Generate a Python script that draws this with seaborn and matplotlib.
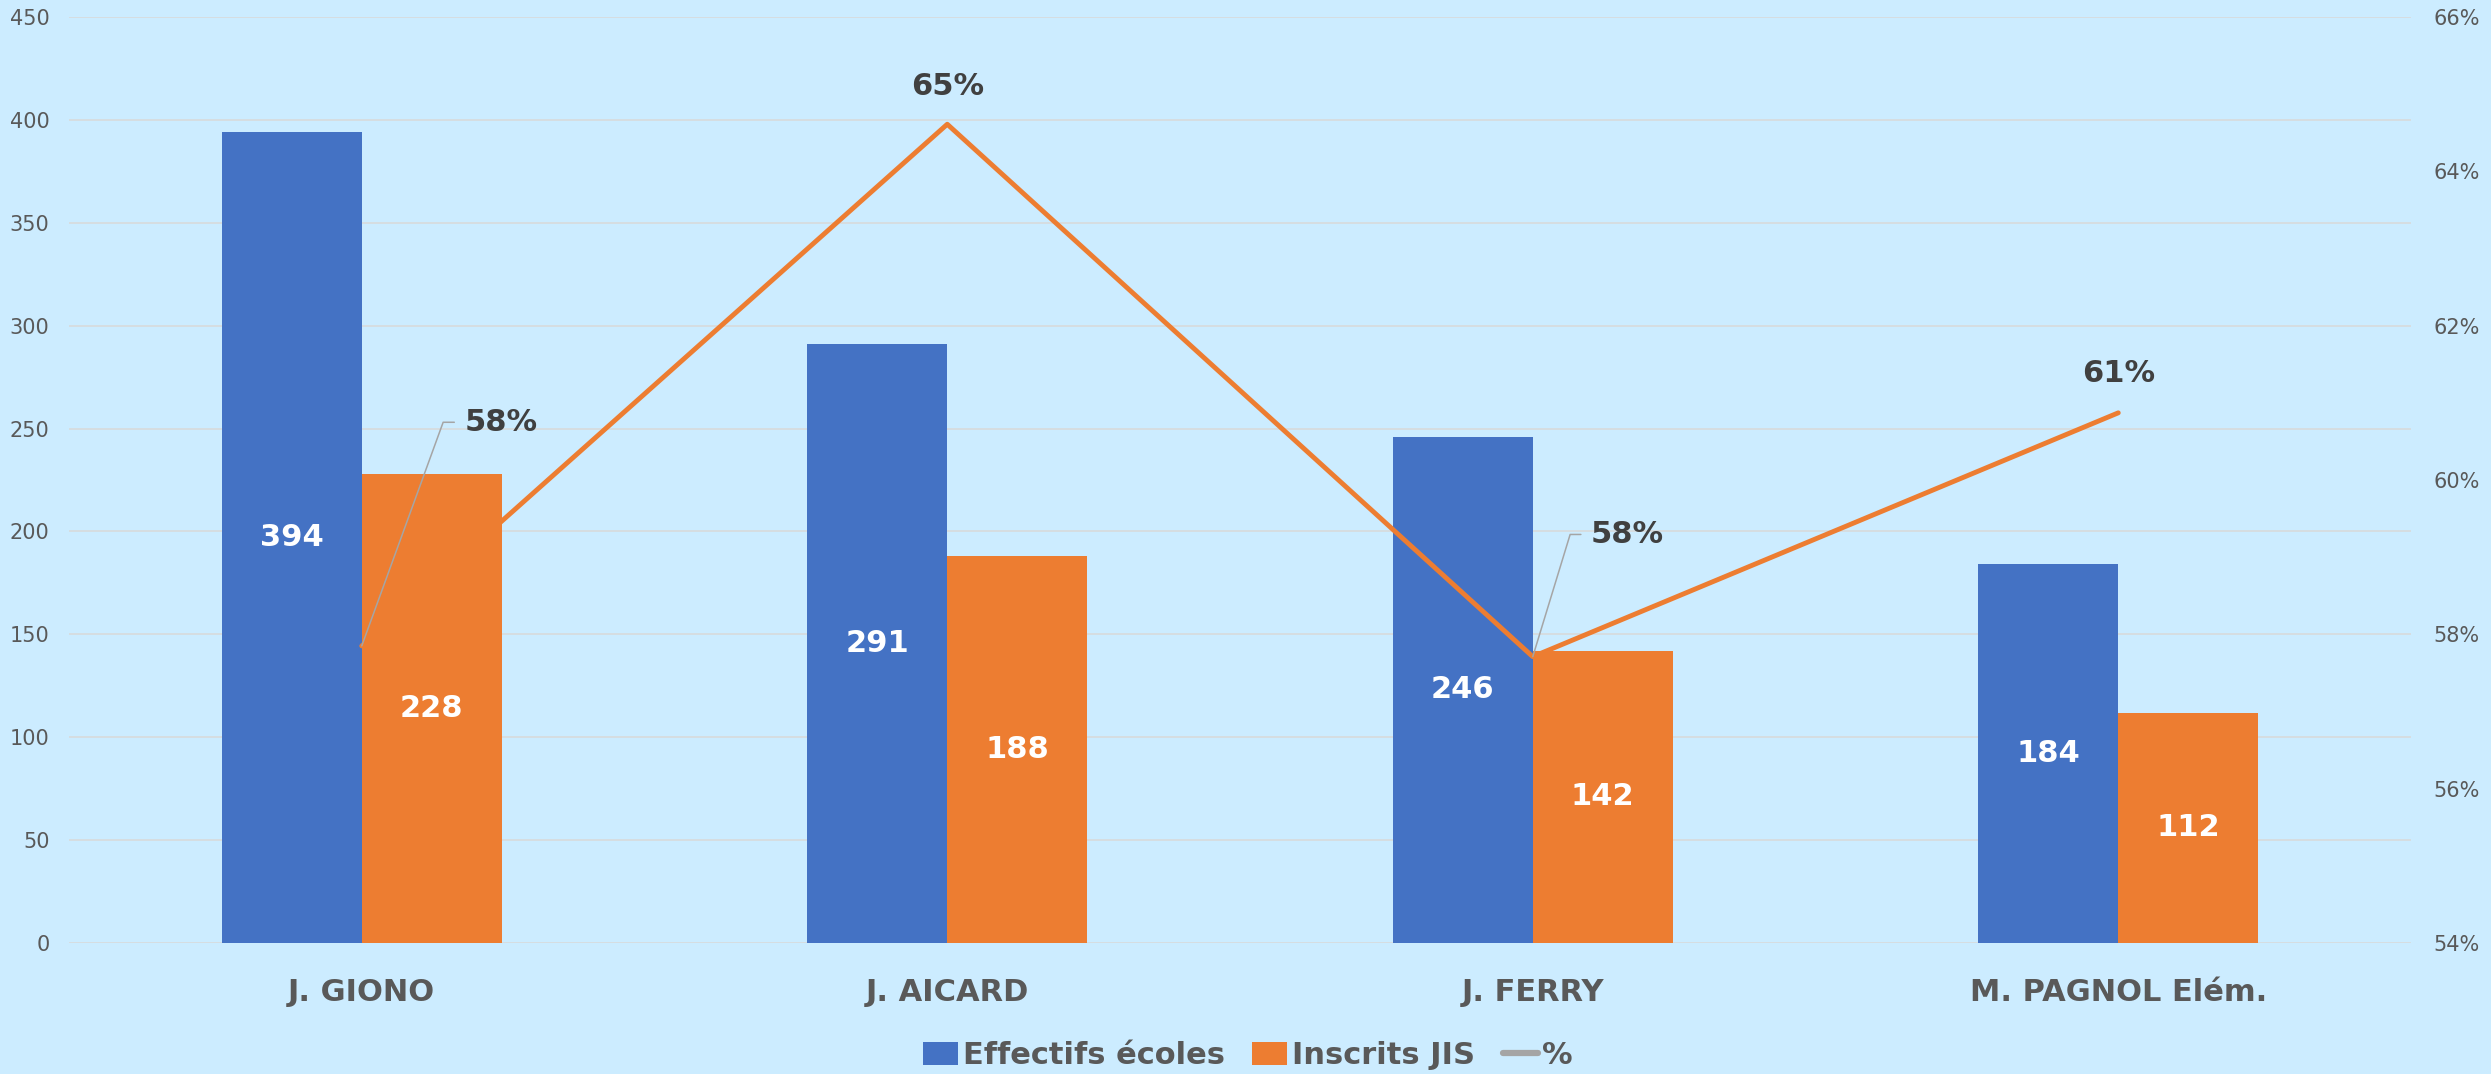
import numpy as np
import matplotlib
matplotlib.use('Agg')
import matplotlib.pyplot as plt
import pandas as pd
import seaborn as sns
from matplotlib.patches import Patch
from matplotlib.lines import Line2D

# données
schools = ['J. GIONO', 'J. AICARD', 'J. FERRY', 'M. PAGNOL Elém.']
effectifs = [394, 291, 246, 184]
inscrits = [228, 188, 142, 112]
pct = [0.5785, 0.6461, 0.5771, 0.6087]

series_names = ['Effectifs écoles', 'Inscrits JIS']
blue = '#4472C4'
orange = '#ED7D31'
bg = '#CCECFF'
grid_col = '#D9D9D9'
tick_col = '#595959'
label_col = '#404040'

df = pd.DataFrame({
    'ecole': schools * 2,
    'serie': [series_names[0]] * 4 + [series_names[1]] * 4,
    'valeur': effectifs + inscrits,
})

sns.set_style('white')
plt.rcParams['font.family'] = ['DejaVu Sans']

fig = plt.figure(figsize=(24.91, 10.74), dpi=100, facecolor=bg)
ax = fig.add_axes([0.0277, 0.122, 0.9402, 0.8622])
ax.set_facecolor(bg)

sns.barplot(data=df, x='ecole', y='valeur', hue='serie', order=schools,
            hue_order=series_names, palette=[blue, orange], width=0.478,
            saturation=1, ax=ax, legend=False, linewidth=0)

ax2 = ax.twinx()
ax2.set_ylim(0.54, 0.66)
ax2.set_yticks(np.arange(0.54, 0.661, 0.02))
ax2.yaxis.set_major_formatter(matplotlib.ticker.PercentFormatter(1.0, decimals=0))

# ordre: barres bleues, ligne, barres orange
for p in ax.containers[0]:
    p.set_zorder(1)
for p in ax.containers[1]:
    p.set_zorder(3)
ax.plot(range(len(schools)), pct, color=orange, lw=3.5, zorder=2,
        solid_capstyle='round', transform=ax2.transData)

for cont in ax.containers:
    txts = ax.bar_label(cont, label_type='center', color='white',
                        fontsize=22, fontweight='bold')
    for t in txts:
        t.set_zorder(5)

ax.set_ylim(0, 450)
ax.set_yticks(range(0, 451, 50))
ax.set_xlim(-0.5, 3.5)
ax.grid(axis='y', color=grid_col, lw=1.1)
ax.set_axisbelow(True)
ax.set_xlabel('')
ax.set_ylabel('')
ax.tick_params(axis='y', length=0, pad=14, labelsize=15, labelcolor=tick_col)
ax.tick_params(axis='x', length=0, pad=25, labelsize=22, labelcolor=tick_col)
for t in ax.get_xticklabels():
    t.set_fontweight('bold')
ax2.tick_params(axis='y', length=0, pad=16, labelsize=15, labelcolor=tick_col)
for a in (ax, ax2):
    for s in a.spines.values():
        s.set_visible(False)

# étiquettes des pourcentages
lbl = [f'{p:.0%}' for p in pct]
ax2.annotate(lbl[1], (1, pct[1]), xytext=(0, 27), textcoords='offset points',
             ha='center', va='center', fontsize=22, fontweight='bold', color=label_col)
ax2.annotate(lbl[3], (3, pct[3]), xytext=(0, 28), textcoords='offset points',
             ha='center', va='center', fontsize=22, fontweight='bold', color=label_col)
ax2.annotate(lbl[0], (0, pct[0]), xytext=(74, 161), textcoords='offset points',
             ha='left', va='center', fontsize=22, fontweight='bold', color=label_col,
             arrowprops=dict(arrowstyle='-', color='#A5A5A5', lw=1.1, relpos=(0, 0.5),
                             shrinkA=5, shrinkB=0,
                             connectionstyle='angle,angleA=0,angleB=70,rad=0'))
ax2.annotate(lbl[2], (2, pct[2]), xytext=(42, 88), textcoords='offset points',
             ha='left', va='center', fontsize=22, fontweight='bold', color=label_col,
             arrowprops=dict(arrowstyle='-', color='#A5A5A5', lw=1.1, relpos=(0, 0.5),
                             shrinkA=5, shrinkB=0,
                             connectionstyle='angle,angleA=0,angleB=73,rad=0'))

handles = [Patch(facecolor=blue, edgecolor='none', label=series_names[0]),
           Patch(facecolor=orange, edgecolor='none', label=series_names[1]),
           Line2D([0], [0], color='#A5A5A5', lw=4.5, solid_capstyle='round', label='%')]
leg = fig.legend(handles=handles, loc='lower center', bbox_to_anchor=(0.501, -0.022),
                 ncol=3, frameon=False, handlelength=1.15, handleheight=0.75,
                 handletextpad=0.15, columnspacing=0.9,
                 prop={'size': 22, 'weight': 'bold'})
for t in leg.get_texts():
    t.set_color(tick_col)

fig.savefig('out.png', dpi=100, facecolor=bg)
